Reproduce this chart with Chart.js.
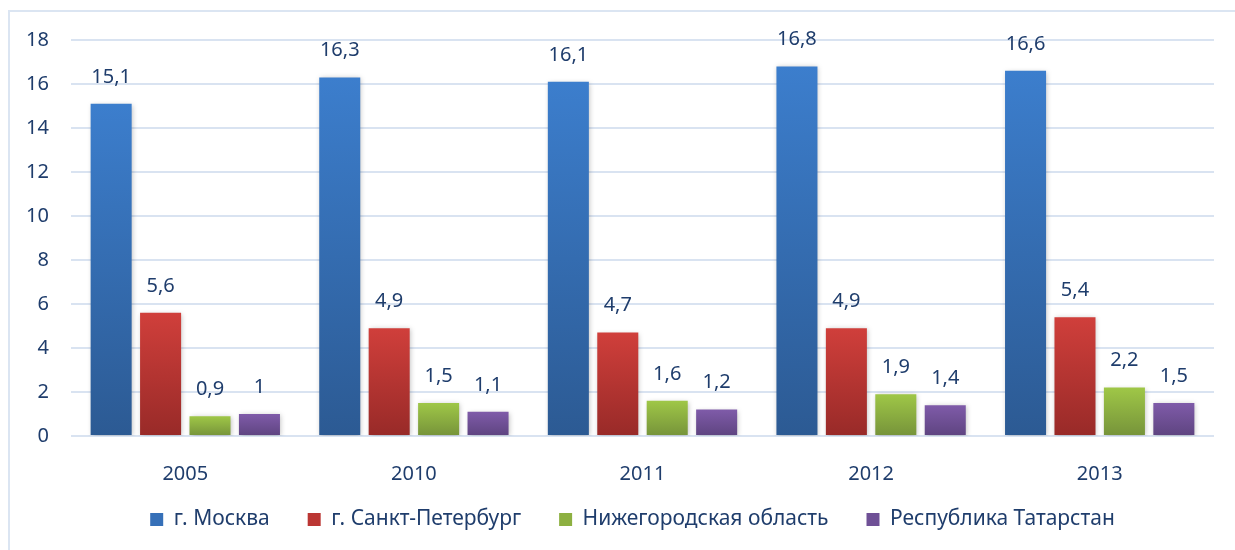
<!DOCTYPE html>
<html>
<head>
<meta charset="utf-8">
<script src="https://cdn.jsdelivr.net/npm/chart.js@4/dist/chart.umd.min.js"></script>
<style>
  html, body { margin: 0; padding: 0; background: #fff; }
  #wrap { position: absolute; left: 8px; top: 10px; width: 1240px; height: 560px;
          border-left: 2px solid #dbe5f2; border-top: 2px solid #dbe5f2; }
  #box { position: absolute; left: 0; top: 0; width: 1235px; height: 550px; }
</style>
</head>
<body>
<div id="wrap"></div>
<div id="box"><canvas id="myChart" width="1235" height="550"></canvas></div>
<script>
var years = ['2005', '2010', '2011', '2012', '2013'];
var moscow = [15.1, 16.3, 16.1, 16.8, 16.6];
var spb = [5.6, 4.9, 4.7, 4.9, 5.4];
var nizhny = [0.9, 1.5, 1.6, 1.9, 2.2];
var tatarstan = [1, 1.1, 1.2, 1.4, 1.5];
var yTicks = [0, 2, 4, 6, 8, 10, 12, 14, 16, 18];

var textColor = '#1f3d6c';
var fontFamily = '"Noto Sans", "Open Sans", sans-serif';

function gradientFill(top, bottom) {
    return function(ctx) {
        var chart = ctx.chart;
        var y = chart.scales.y;
        if (!y || ctx.raw === undefined) return top;
        var y1 = y.getPixelForValue(ctx.raw);
        var y0 = y.getPixelForValue(0);
        if (!isFinite(y1) || !isFinite(y0) || y1 === y0) return top;
        var g = chart.ctx.createLinearGradient(0, y1, 0, y0);
        g.addColorStop(0, top);
        g.addColorStop(1, bottom);
        return g;
    };
}

// scales are squeezed to fit the legend, so let their labels spill out of the box
var unclipLabels = {
    id: 'unclipLabels',
    afterLayout: function(chart) {
        chart.scales.x.bottom = chart.height;
        chart.scales.y.left = 0;
    }
};

var valueLabels = {
    id: 'valueLabels',
    afterDatasetsDraw: function(chart) {
        var ctx = chart.ctx;
        ctx.save();
        ctx.font = '20px ' + fontFamily;
        ctx.fillStyle = textColor;
        ctx.textAlign = 'center';
        ctx.textBaseline = 'middle';
        chart.data.datasets.forEach(function(ds, i) {
            chart.getDatasetMeta(i).data.forEach(function(el, j) {
                var txt = String(ds.data[j]).replace('.', ',');
                ctx.fillText(txt, el.x, el.y - 27);
            });
        });
        ctx.restore();
    }
};

var barShadow = {
    id: 'barShadow',
    beforeDatasetsDraw: function(chart) {
        chart.ctx.save();
        chart.ctx.shadowColor = 'rgba(0,0,0,0.25)';
        chart.ctx.shadowBlur = 5;
        chart.ctx.shadowOffsetX = 1;
        chart.ctx.shadowOffsetY = 1;
    },
    afterDatasetsDraw: function(chart) {
        chart.ctx.restore();
    }
};

var series = [
    { label: 'г. Москва', data: moscow, top: '#3c7ecd', bottom: '#2c5a93', solid: '#3670b8' },
    { label: 'г. Санкт-Петербург', data: spb, top: '#d03f3b', bottom: '#982a28', solid: '#bb3633' },
    { label: 'Нижегородская область', data: nizhny, top: '#9fc747', bottom: '#76933a', solid: '#8db041' },
    { label: 'Республика Татарстан', data: tatarstan, top: '#7f5ba9', bottom: '#5e4480', solid: '#6f5096' }
];

var config = {
    type: 'bar',
    data: {
        labels: years,
        datasets: series.map(function(s) {
            return {
                label: s.label,
                data: s.data,
                backgroundColor: gradientFill(s.top, s.bottom),
                solid: s.solid,
                categoryPercentage: 0.865,
                barPercentage: 0.83
            };
        })
    },
    options: {
        responsive: false,
        animation: false,
        layout: { padding: { left: 51, right: 21, top: 40, bottom: 10 } },
        scales: {
            x: {
                grid: { display: false },
                border: { display: false },
                afterFit: function(scale) { scale.height = 35; },
                ticks: { color: textColor, font: { size: 20, family: fontFamily }, padding: 18 }
            },
            y: {
                min: 0,
                max: 18,
                afterBuildTicks: function(scale) {
                    scale.ticks = yTicks.map(function(v) { return { value: v }; });
                },
                afterFit: function(scale) { scale.width = 20; },
                grid: { color: '#d9e3f1', lineWidth: 2, drawTicks: false },
                border: { display: false },
                ticks: { color: textColor, font: { size: 20, family: fontFamily }, padding: 22 }
            }
        },
        plugins: {
            tooltip: { enabled: false },
            legend: {
                position: 'bottom',
                labels: {
                    color: textColor,
                    font: { size: 21, family: fontFamily },
                    boxWidth: 13,
                    boxHeight: 13,
                    padding: 38,
                    generateLabels: function(chart) {
                        return chart.data.datasets.map(function(ds, i) {
                            return {
                                text: ds.label,
                                fillStyle: ds.solid,
                                strokeStyle: ds.solid,
                                lineWidth: 0,
                                fontColor: textColor,
                                datasetIndex: i
                            };
                        });
                    }
                }
            }
        }
    },
    plugins: [unclipLabels, barShadow, valueLabels]
};

window.onload = function() {
    var ctx = document.getElementById('myChart').getContext('2d');
    window.myChart = new Chart(ctx, config);
};
</script>
</body>
</html>
